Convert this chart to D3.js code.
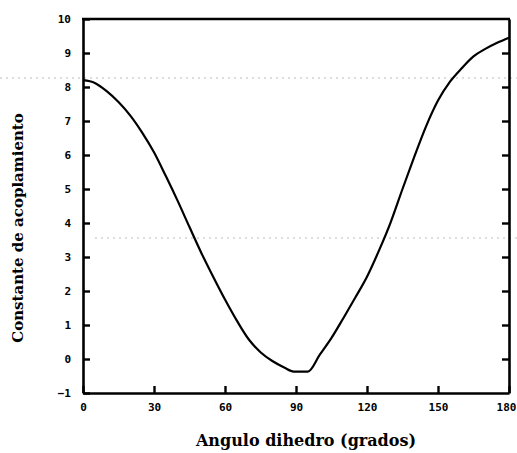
<!DOCTYPE html>
<html>
<head>
<meta charset="utf-8">
<script src="https://cdn.jsdelivr.net/npm/d3@7"></script>
<style>
  body { margin: 0; background: #fff; }
  svg { display: block; }
</style>
</head>
<body>
<div id="chart"></div>
<script>
// Values
var angles = [0, 5, 10, 15, 20, 25, 30, 35, 40, 45, 50, 55, 60, 65, 70, 75, 80, 85, 89, 95, 100, 105, 110, 115, 120, 125, 130, 135, 140, 145, 150, 155, 160, 165, 170, 175, 180];
var coupling = [8.2, 8.12, 7.88, 7.56, 7.16, 6.66, 6.08, 5.38, 4.65, 3.88, 3.12, 2.42, 1.75, 1.13, 0.58, 0.2, -0.06, -0.25, -0.37, -0.37, 0.12, 0.62, 1.2, 1.8, 2.42, 3.18, 4.02, 5.0, 5.95, 6.85, 7.6, 8.15, 8.55, 8.9, 9.12, 9.3, 9.45];

var xTicks = [0, 30, 60, 90, 120, 150, 180];
var yTicks = [-1, 0, 1, 2, 3, 4, 5, 6, 7, 8, 9, 10];

var width = 517;
var height = 453;
var plotLeft = 83, plotRight = 509, plotTop = 19, plotBottom = 393;

var svg = d3.select('#chart')
    .append('svg')
    .attr('width', width)
    .attr('height', height);

var x = d3.scaleLinear().domain([0, 180]).range([plotLeft, plotRight]);
var y = d3.scaleLinear().domain([-1, 10]).range([plotBottom, plotTop]);

// faint scan lines
svg.append('line')
    .attr('x1', 0).attr('x2', width)
    .attr('y1', 78).attr('y2', 78)
    .attr('stroke', '#bbb').attr('stroke-width', 1)
    .attr('stroke-dasharray', '2,4');
svg.append('line')
    .attr('x1', 95).attr('x2', width)
    .attr('y1', 238).attr('y2', 238)
    .attr('stroke', '#bbb').attr('stroke-width', 1)
    .attr('stroke-dasharray', '2,4');

// bottom axis, ticks pointing in
var xAxis = d3.axisBottom(x)
    .tickValues(xTicks)
    .tickSizeInner(-7)
    .tickSizeOuter(0)
    .tickPadding(10);

var gx = svg.append('g')
    .attr('transform', 'translate(0,' + plotBottom + ')')
    .call(xAxis);

// left axis
var yAxis = d3.axisLeft(y)
    .tickValues(yTicks)
    .tickFormat(function (d) { return d < 0 ? '\u2212' + Math.abs(d) : d; })
    .tickSizeInner(-7)
    .tickSizeOuter(0)
    .tickPadding(12);

var gy = svg.append('g')
    .attr('transform', 'translate(' + plotLeft + ',0)')
    .call(yAxis);

// right axis, no labels
var gr = svg.append('g')
    .attr('transform', 'translate(' + plotRight + ',0)')
    .call(d3.axisRight(y)
        .tickValues(yTicks.slice(1, -1))
        .tickSizeInner(-7)
        .tickSizeOuter(0)
        .tickFormat(''));

[gx, gy, gr].forEach(function (g) {
    g.selectAll('.domain').attr('stroke', '#000').attr('stroke-width', 2.6);
    g.selectAll('.tick line').attr('stroke', '#000').attr('stroke-width', 2.4);
    g.selectAll('.tick text')
        .attr('fill', '#000')
        .style('font-family', '"DejaVu Sans Mono", monospace')
        .style('font-weight', 'bold')
        .style('font-size', '11px');
});

// the last x label sits a bit left so it stays on the page
gx.selectAll('.tick text')
    .filter(function (d) { return d === 180; })
    .attr('dx', -3);

// top border
svg.append('line')
    .attr('x1', plotLeft - 1).attr('x2', plotRight + 1)
    .attr('y1', plotTop).attr('y2', plotTop)
    .attr('stroke', '#000').attr('stroke-width', 2.6);

// the curve
var data = angles.map(function (a, i) { return { a: a, v: coupling[i] }; });

var line = d3.line()
    .x(function (d) { return x(d.a); })
    .y(function (d) { return y(d.v); })
    .curve(d3.curveMonotoneX);

svg.append('path')
    .datum(data)
    .attr('d', line)
    .attr('fill', 'none')
    .attr('stroke', '#000')
    .attr('stroke-width', 2.2);

// axis titles
svg.append('text')
    .attr('x', 306)
    .attr('y', 446)
    .attr('text-anchor', 'middle')
    .style('font-family', '"DejaVu Serif", serif')
    .style('font-weight', 'bold')
    .style('font-size', '16px')
    .text('Angulo dihedro (grados)');

svg.append('text')
    .attr('transform', 'translate(23,228) rotate(-90)')
    .attr('text-anchor', 'middle')
    .style('font-family', '"DejaVu Serif", serif')
    .style('font-weight', 'bold')
    .style('font-size', '15px')
    .text('Constante de acoplamiento');
</script>
</body>
</html>
